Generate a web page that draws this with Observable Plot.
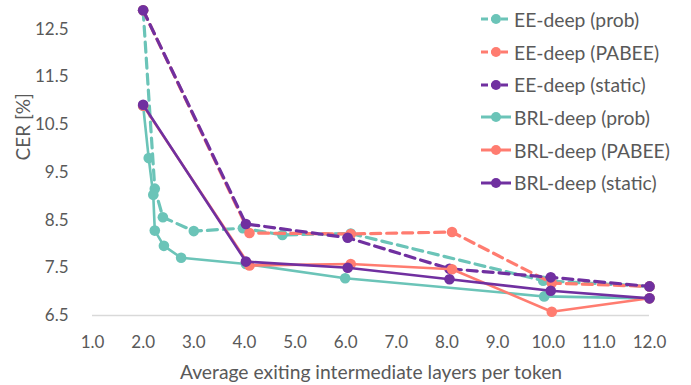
<!DOCTYPE html>
<html>
<head>
<meta charset="utf-8">
<script src="https://cdn.jsdelivr.net/npm/d3@7"></script>
<script src="https://cdn.jsdelivr.net/npm/@observablehq/plot@0.6"></script>
<style>
  html, body { margin: 0; padding: 0; background: #fff; }
  #wrap { position: relative; width: 691px; height: 385px; font-family: Lato, "Open Sans", sans-serif; }
  #legend { position: absolute; left: 480px; top: 3px; font-size: 19.3px; color: #595959; }
  .row { display: flex; align-items: center; height: 32.7px; }
  .row svg { margin-right: 2px; }
</style>
</head>
<body>
<div id="wrap"><div id="legend"></div></div>
<script>
const seriesNames = ["EE-deep (prob)", "EE-deep (PABEE)", "EE-deep (static)", "BRL-deep (prob)", "BRL-deep (PABEE)", "BRL-deep (static)"];
const seriesColors = ["#6BC4B8", "#FF7C70", "#7030A0", "#6BC4B8", "#FF7C70", "#7030A0"];
const seriesDashed = [true, true, true, false, false, false];

const eeProbX = [2.0, 2.23, 2.39, 3.0, 3.97, 4.75, 6.1, 9.9, 12.0];
const eeProbY = [12.9, 9.16, 8.56, 8.27, 8.33, 8.19, 8.22, 7.23, 7.11];
const eePabeeX = [2.0, 4.1, 6.1, 8.1, 10.07, 12.0];
const eePabeeY = [12.9, 8.23, 8.21, 8.25, 7.18, 7.11];
const eeStaticX = [2.0, 4.03, 6.04, 8.05, 10.05, 12.0];
const eeStaticY = [12.9, 8.42, 8.13, 7.48, 7.30, 7.11];
const brlProbX = [2.0, 2.11, 2.2, 2.23, 2.41, 2.75, 4.03, 5.99, 9.92, 12.0];
const brlProbY = [10.9, 9.8, 9.03, 8.28, 7.96, 7.71, 7.58, 7.28, 6.90, 6.86];
const brlPabeeX = [2.0, 4.1, 6.1, 8.1, 10.07, 12.0];
const brlPabeeY = [10.9, 7.55, 7.58, 7.47, 6.58, 6.86];
const brlStaticX = [2.0, 4.03, 6.04, 8.05, 10.05, 12.0];
const brlStaticY = [10.92, 7.63, 7.50, 7.26, 7.02, 6.86];

const xTicks = [1, 2, 3, 4, 5, 6, 7, 8, 9, 10, 11, 12];
const yTicks = [6.5, 7.5, 8.5, 9.5, 10.5, 11.5, 12.5];
const xTitle = "Average exiting intermediate layers per token";
const yTitle = "CER [%]";

const allX = [eeProbX, eePabeeX, eeStaticX, brlProbX, brlPabeeX, brlStaticX];
const allY = [eeProbY, eePabeeY, eeStaticY, brlProbY, brlPabeeY, brlStaticY];
const data = [];
allX.forEach((xs, i) => xs.forEach((x, j) => data.push({series: seriesNames[i], x, y: allY[i][j]})));

const marks = [
  Plot.ruleY([6.5], {stroke: "#d9d9d9", strokeWidth: 1.3}),
  Plot.axisX({ticks: xTicks, tickFormat: d3.format(".1f"), tickSize: 0, tickPadding: 20, fontSize: 17, label: null}),
  Plot.axisY({ticks: yTicks, tickFormat: d3.format(".1f"), tickSize: 0, tickPadding: 24, fontSize: 17, label: null}),
  Plot.text([xTitle], {frameAnchor: "bottom", dy: 57, lineAnchor: "middle", fontSize: 19.3, fill: "#595959"}),
  Plot.text([yTitle], {frameAnchor: "left", dx: -69, rotate: -90, lineAnchor: "middle", fontSize: 19, fill: "#595959"})
];
seriesNames.forEach((name, i) => {
  const rows = data.filter(d => d.series === name);
  marks.push(Plot.line(rows, {x: "x", y: "y", stroke: seriesColors[i], strokeWidth: seriesDashed[i] ? 3.2 : 2.6, strokeDasharray: seriesDashed[i] ? "10,6" : null}));
  marks.push(Plot.dot(rows, {x: "x", y: "y", fill: seriesColors[i], r: 5.3}));
});

const chart = Plot.plot({
  width: 691,
  height: 385,
  marginLeft: 92,
  marginRight: 42,
  marginTop: 5,
  marginBottom: 70,
  style: {fontFamily: "Lato, 'Open Sans', sans-serif", color: "#595959", fontSize: "17px", background: "transparent"},
  x: {domain: [1, 12]},
  y: {domain: [6.5, 13]},
  marks
});
const wrap = document.getElementById("wrap");
wrap.insertBefore(chart, wrap.firstChild);

const legend = document.getElementById("legend");
seriesNames.forEach((name, i) => {
  const row = document.createElement("div");
  row.className = "row";
  row.innerHTML = `<svg width="32" height="12"><line x1="1" x2="31" y1="6" y2="6" stroke="${seriesColors[i]}" stroke-width="3" ${seriesDashed[i] ? 'stroke-dasharray="7,3"' : ''}/><circle cx="16" cy="6" r="5" fill="${seriesColors[i]}"/></svg><span>${name}</span>`;
  legend.appendChild(row);
});
</script>
</body>
</html>
